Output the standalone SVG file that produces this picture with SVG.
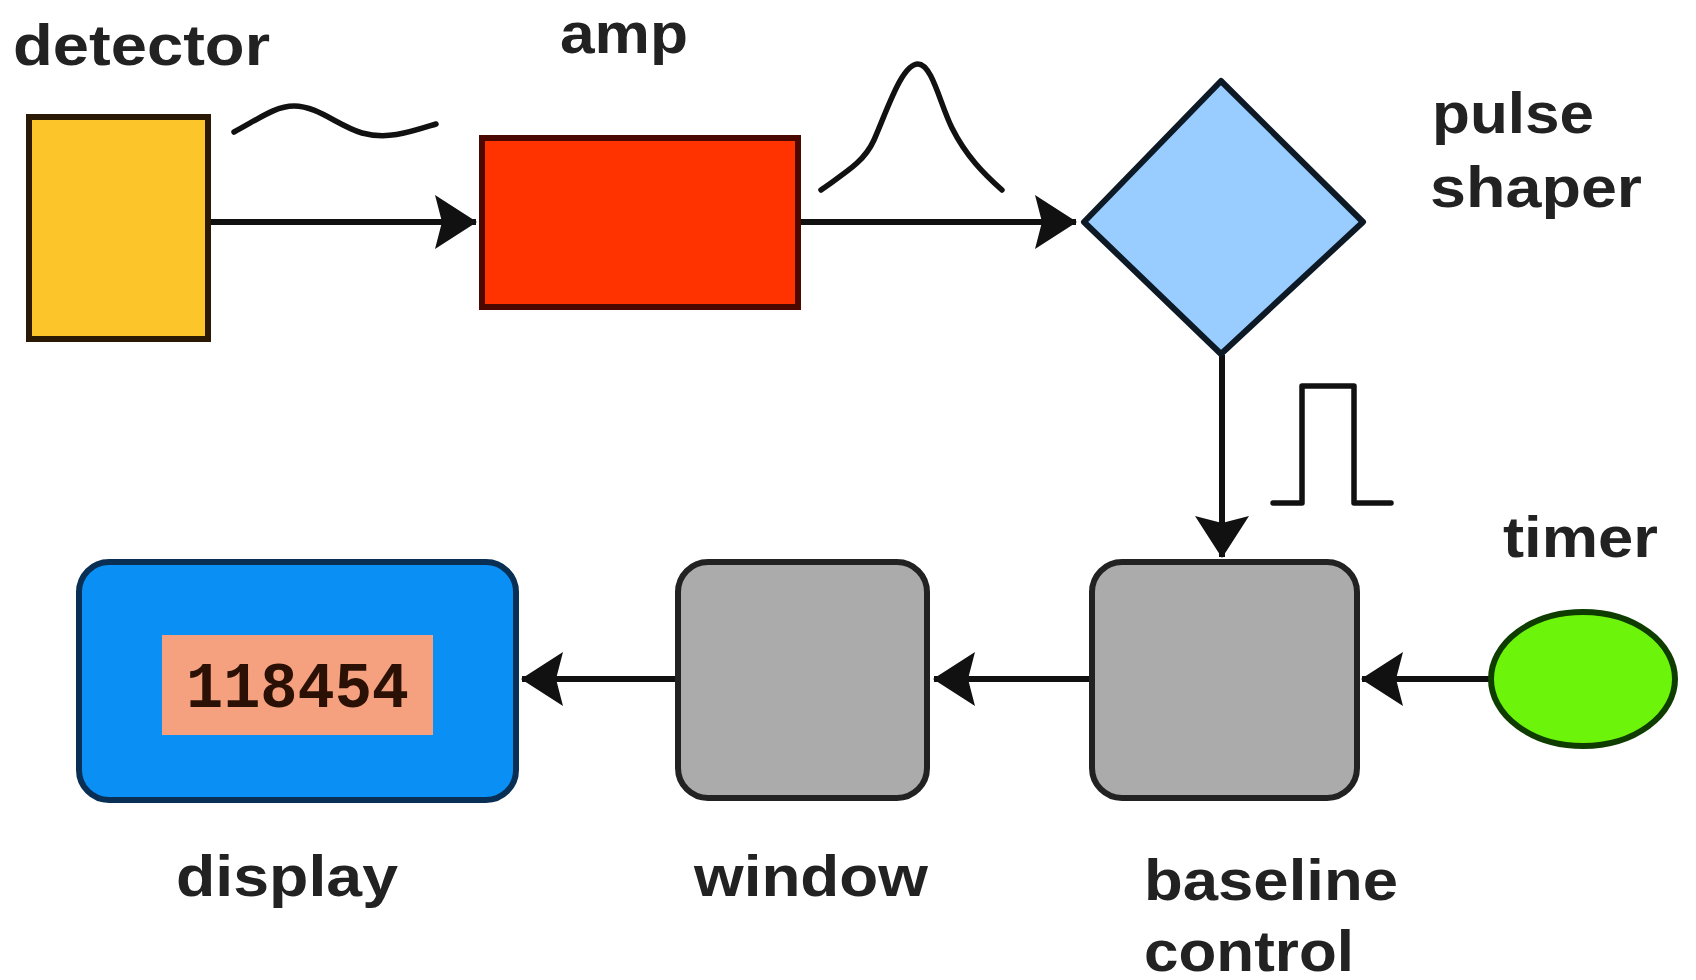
<svg xmlns="http://www.w3.org/2000/svg" width="1696" height="980" viewBox="0 0 1696 980">
<style>
.lbl{font-family:"Liberation Sans",Arial,sans-serif;font-weight:bold;font-size:58px;fill:#222}
.conn{stroke:#111;stroke-width:6;fill:none}
.sig{stroke:#111;stroke-width:5.5;fill:none;stroke-linejoin:round;stroke-linecap:round}
.gray{fill:#ABABAB;stroke:#222;stroke-width:6}
</style>
<defs>
<marker id="ah" markerUnits="userSpaceOnUse" markerWidth="44" markerHeight="56" refX="41" refY="27" orient="auto" viewBox="0 0 44 56">
<path d="M0,0 L42,27 L0,54 L7,27 Z" fill="#111"/>
</marker>
</defs>
<rect width="1696" height="980" fill="#fff"/>
<g id="connectors">
<line class="conn" x1="208" y1="222" x2="476" y2="222" marker-end="url(#ah)"/>
<line class="conn" x1="798" y1="222" x2="1076" y2="222" marker-end="url(#ah)"/>
<line class="conn" x1="1222" y1="355" x2="1222" y2="557" marker-end="url(#ah)"/>
<line class="conn" x1="1490" y1="679" x2="1362" y2="679" marker-end="url(#ah)"/>
<line class="conn" x1="1092" y1="679" x2="934" y2="679" marker-end="url(#ah)"/>
<line class="conn" x1="678" y1="679" x2="522" y2="679" marker-end="url(#ah)"/>
</g>
<g id="signals">
<path class="sig" d="M234,132 C260,118 276,106 294,106 C318,106 338,126 362,133 C388,140 410,132 436,124"/>
<path class="sig" d="M821,190 C846,172 864,162 874,140 C888,108 902,64 918,64 C932,64 940,104 952,128 C966,156 984,174 1002,190"/>
<path class="sig" d="M1273,503 L1302,503 L1302,386 L1354,386 L1354,503 L1391,503" stroke-width="5" stroke-linejoin="miter" stroke-linecap="butt"/>
</g>
<g id="detector">
<rect x="29" y="117" width="179" height="222" fill="#FCC62B" stroke="#2a1a05" stroke-width="6"/>
<text class="lbl" x="13" y="65" textLength="257" lengthAdjust="spacingAndGlyphs">detector</text>
</g>
<g id="amp">
<rect x="482" y="138" width="316" height="169" fill="#FF3300" stroke="#4a0800" stroke-width="6"/>
<text class="lbl" x="560" y="53" textLength="128" lengthAdjust="spacingAndGlyphs">amp</text>
</g>
<g id="pulse-shaper">
<polygon points="1221,81 1363,222 1221,354 1084,222" fill="#99CCFF" stroke="#0d1a26" stroke-width="6" stroke-linejoin="round"/>
<text class="lbl" x="1432" y="133" textLength="162" lengthAdjust="spacingAndGlyphs">pulse</text>
<text class="lbl" x="1430" y="207" textLength="212" lengthAdjust="spacingAndGlyphs">shaper</text>
</g>
<g id="baseline-control">
<rect class="gray" x="1092" y="562" width="265" height="236" rx="30" ry="30"/>
<text class="lbl" x="1144" y="900" textLength="254" lengthAdjust="spacingAndGlyphs">baseline</text>
<text class="lbl" x="1144" y="971" textLength="210" lengthAdjust="spacingAndGlyphs">control</text>
</g>
<g id="window">
<rect class="gray" x="678" y="562" width="249" height="236" rx="30" ry="30"/>
<text class="lbl" x="694" y="896" textLength="234" lengthAdjust="spacingAndGlyphs">window</text>
</g>
<g id="display">
<rect x="79" y="562" width="437" height="238" rx="30" ry="30" fill="#0A90F5" stroke="#0a2f55" stroke-width="6"/>
<rect x="162" y="635" width="271" height="100" fill="#F5A07E"/>
<text x="186" y="707" textLength="223" lengthAdjust="spacingAndGlyphs" style="font-family:'Liberation Mono','Courier New',monospace;font-weight:bold;font-size:64px;fill:#2a1005">118454</text>
<text class="lbl" x="176" y="896" textLength="222" lengthAdjust="spacingAndGlyphs">display</text>
</g>
<g id="timer">
<ellipse cx="1583" cy="679" rx="92" ry="67" fill="#6CF50A" stroke="#0f3d00" stroke-width="6"/>
<text class="lbl" x="1503" y="557" textLength="155" lengthAdjust="spacingAndGlyphs">timer</text>
</g>
</svg>
